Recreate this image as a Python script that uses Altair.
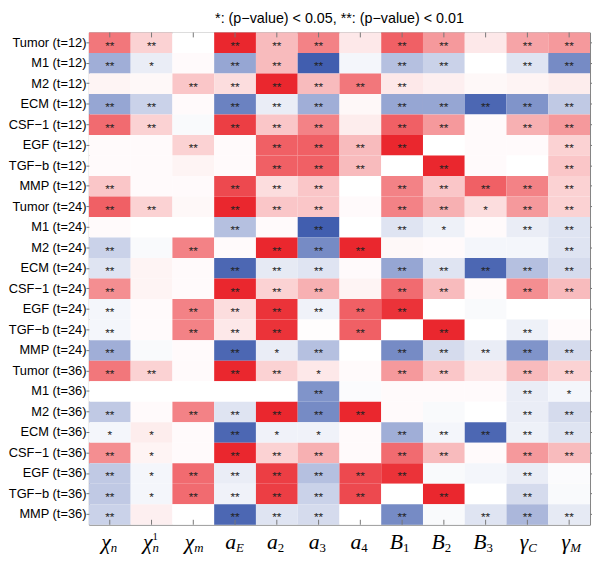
import altair as alt
import pandas as pd

title_text = "*: (p\u2212value) < 0.05, **: (p\u2212value) < 0.01"

variables = ["Tumor", "M1", "M2", "ECM", "CSF\u22121", "EGF", "TGF\u2212b", "MMP"]
times = [12, 24, 36]

params = ["chi_n", "chi_n1", "chi_m", "a_E", "a_2", "a_3", "a_4", "B_1", "B_2", "B_3", "gamma_C", "gamma_M"]
base_labels = ["\u03c7", "\u03c7", "\u03c7", "a", "a", "a", "a", "B", "B", "B", "\u03b3", "\u03b3"]
sub_labels = ["n", "n", "m", "E", "2", "3", "4", "1", "2", "3", "C", "M"]
sup_labels = ["", "1", "", "", "", "", "", "", "", "", "", ""]

# correlation-like values, rows = variables, columns = params
vals_t12 = [
    [0.6, 0.2, 0.0, 0.95, 0.3, 0.55, 0.1, 0.7, 0.45, 0.1, 0.4, 0.45],
    [-0.45, -0.1, 0.02, -0.5, 0.3, -0.9, -0.05, -0.35, -0.25, 0.0, -0.15, -0.65],
    [0.05, 0.03, 0.25, 0.15, 0.95, 0.3, 0.6, 0.1, 0.07, 0.03, 0.05, 0.08],
    [-0.5, -0.25, 0.02, -0.7, -0.1, -0.45, 0.03, -0.5, -0.5, -0.85, -0.6, -0.3],
    [0.65, 0.2, -0.03, 0.85, 0.25, 0.55, 0.08, 0.7, 0.45, 0.02, 0.35, 0.45],
    [0.02, 0.02, 0.2, 0.02, 0.7, 0.7, 0.3, 0.95, 0.0, 0.02, 0.02, 0.2],
    [0.02, 0.02, 0.05, 0.02, 0.7, 0.7, 0.3, 0.0, 0.95, 0.02, 0.0, 0.25],
    [0.25, 0.02, 0.02, 0.8, 0.15, 0.25, 0.0, 0.55, 0.25, 0.7, 0.55, 0.2],
]
vals_t24 = [
    [0.7, 0.2, 0.03, 0.95, 0.25, 0.25, 0.02, 0.55, 0.35, 0.15, 0.45, 0.2],
    [0.02, 0.0, 0.0, -0.35, 0.02, -0.9, 0.0, -0.15, -0.08, 0.02, -0.1, -0.15],
    [-0.25, -0.03, 0.55, 0.02, 0.95, -0.65, 0.95, 0.03, 0.02, -0.05, -0.05, -0.15],
    [-0.15, 0.05, 0.02, -0.85, -0.12, -0.15, 0.02, -0.5, -0.15, -0.85, -0.35, -0.2],
    [0.5, 0.05, 0.02, 0.95, 0.2, 0.35, 0.05, 0.65, 0.3, 0.02, 0.5, 0.3],
    [-0.05, 0.02, 0.55, 0.15, 0.9, -0.07, 0.7, 0.9, 0.0, -0.03, 0.0, 0.0],
    [-0.05, 0.02, 0.55, 0.1, 0.9, 0.01, 0.7, 0.0, 0.95, 0.0, -0.08, 0.02],
    [-0.45, -0.03, 0.02, -0.85, -0.1, -0.35, 0.0, -0.65, -0.2, -0.1, -0.6, -0.2],
]
vals_t36 = [
    [0.6, 0.2, 0.02, 0.95, 0.2, 0.1, 0.02, 0.45, 0.25, 0.1, 0.3, 0.2],
    [0.0, 0.0, 0.0, 0.0, 0.0, -0.6, -0.02, 0.02, 0.02, 0.02, -0.1, -0.05],
    [-0.3, 0.02, 0.55, -0.15, 0.95, -0.65, 0.95, 0.02, -0.03, 0.0, -0.1, -0.2],
    [-0.05, 0.08, 0.02, -0.85, -0.07, -0.07, 0.02, -0.45, -0.05, -0.85, -0.08, -0.15],
    [0.5, 0.05, 0.02, 0.95, 0.2, 0.35, 0.02, 0.65, 0.3, 0.02, 0.45, 0.3],
    [-0.3, -0.05, 0.65, -0.1, 0.85, -0.35, 0.8, 0.9, -0.03, -0.05, -0.1, -0.02],
    [-0.3, -0.05, 0.65, -0.07, 0.85, -0.25, 0.8, 0.0, 0.95, 0.0, -0.2, -0.03],
    [-0.25, 0.07, 0.0, -0.85, -0.15, -0.2, 0.0, -0.65, -0.03, -0.15, -0.4, -0.12],
]

# significance: 0 none, 1 "*", 2 "**"
sig_t12 = [
    [2, 2, 0, 2, 2, 2, 0, 2, 2, 0, 2, 2],
    [2, 1, 0, 2, 2, 2, 0, 2, 2, 0, 2, 2],
    [0, 0, 2, 2, 2, 2, 2, 2, 0, 0, 0, 0],
    [2, 2, 0, 2, 2, 2, 0, 2, 2, 2, 2, 2],
    [2, 2, 0, 2, 2, 2, 0, 2, 2, 0, 2, 2],
    [0, 0, 2, 0, 2, 2, 2, 2, 0, 0, 0, 2],
    [0, 0, 0, 0, 2, 2, 2, 0, 2, 0, 0, 2],
    [2, 0, 0, 2, 2, 2, 0, 2, 2, 2, 2, 2],
]
sig_t24 = [
    [2, 2, 0, 2, 2, 2, 0, 2, 2, 1, 2, 2],
    [0, 0, 0, 2, 0, 2, 0, 2, 1, 0, 2, 2],
    [2, 0, 2, 0, 2, 2, 2, 0, 0, 0, 0, 2],
    [2, 0, 0, 2, 2, 2, 0, 2, 2, 2, 2, 2],
    [2, 0, 0, 2, 2, 2, 0, 2, 2, 0, 2, 2],
    [2, 0, 2, 2, 2, 2, 2, 2, 0, 0, 0, 0],
    [2, 0, 2, 2, 2, 0, 2, 0, 2, 0, 2, 0],
    [2, 0, 0, 2, 1, 2, 0, 2, 2, 2, 2, 2],
]
sig_t36 = [
    [2, 2, 0, 2, 2, 1, 0, 2, 2, 0, 2, 2],
    [0, 0, 0, 0, 0, 2, 0, 0, 0, 0, 2, 1],
    [2, 0, 2, 2, 2, 2, 2, 0, 0, 0, 2, 2],
    [1, 1, 0, 2, 1, 1, 0, 2, 2, 2, 2, 2],
    [2, 1, 0, 2, 2, 2, 0, 2, 2, 0, 2, 2],
    [2, 1, 2, 2, 2, 2, 2, 2, 0, 0, 2, 0],
    [2, 1, 2, 2, 2, 2, 2, 0, 2, 0, 2, 0],
    [2, 0, 0, 2, 2, 2, 0, 2, 0, 2, 2, 2],
]

W, H = 508, 499
BLUE, RED = "#2c4ca6", "#e91c23"
LABEL_FONT = "Liberation Sans"

rows = []
records = []
for t, vals, sigs in zip(times, [vals_t12, vals_t24, vals_t36], [sig_t12, sig_t24, sig_t36]):
    for v, vrow, srow in zip(variables, vals, sigs):
        rname = f"{v} (t={t})"
        rows.append(rname)
        for p, val, s in zip(params, vrow, srow):
            records.append({"row": rname, "param": p, "value": val, "star": "*" * s})
df = pd.DataFrame(records)

lab = pd.DataFrame({"param": params, "base": base_labels, "sub": sub_labels, "sup": sup_labels})
lab["digit"] = lab["sub"].str.isdigit()

xs = alt.X("param:N", sort=params, axis=None, scale=alt.Scale(paddingInner=0, paddingOuter=0))
ys_noaxis = alt.Y("row:N", sort=rows, axis=None, scale=alt.Scale(paddingInner=0, paddingOuter=0))

heat = alt.Chart(df).mark_rect().encode(
    x=xs,
    y=alt.Y("row:N", sort=rows, scale=alt.Scale(paddingInner=0, paddingOuter=0),
            axis=alt.Axis(title=None, orient="left", domain=False, tickSize=3, tickColor="#777",
                          labelFont=LABEL_FONT, labelFontSize=13, labelColor="black", labelPadding=0,
                          labelLimit=200)),
    color=alt.Color("value:Q", legend=None,
                    scale=alt.Scale(domain=[-1, 0, 1], range=[BLUE, "#ffffff", RED], interpolate="rgb")),
)

right_axis = alt.Chart(df).mark_rect(opacity=0).encode(
    x=xs,
    y=alt.Y("row:N", sort=rows, scale=alt.Scale(paddingInner=0, paddingOuter=0),
            axis=alt.Axis(title=None, orient="right", domain=False, labels=False, tickSize=4, tickColor="#777")),
)

stars = alt.Chart(df).transform_filter("datum.star != ''").mark_text(
    fontSize=12, font="Liberation Sans", color="#222", baseline="middle", dy=3
).encode(x=xs, y=ys_noaxis, text="star:N")

pdf = pd.DataFrame({"param": params})
ticks_top = alt.Chart(pdf).mark_rule(color="#777", strokeWidth=1).encode(
    x=xs, y=alt.value(0), y2=alt.value(5))
ticks_bot = alt.Chart(pdf).mark_rule(color="#777", strokeWidth=1).encode(
    x=xs, y=alt.value(H - 5), y2=alt.value(H))

base_txt = alt.Chart(lab).mark_text(
    align="right", baseline="alphabetic", font="Liberation Serif", fontStyle="italic",
    fontSize=22, dx=1, color="black"
).encode(x=xs, y=alt.value(H + 25), text="base:N")
sub_it = alt.Chart(lab).transform_filter("!datum.digit").mark_text(
    align="left", baseline="alphabetic", font="Liberation Serif", fontStyle="italic",
    fontSize=13, dx=1, color="black"
).encode(x=xs, y=alt.value(H + 28), text="sub:N")
sub_num = alt.Chart(lab).transform_filter("datum.digit").mark_text(
    align="left", baseline="alphabetic", font="Liberation Serif",
    fontSize=13, dx=1, color="black"
).encode(x=xs, y=alt.value(H + 28), text="sub:N")
sup_txt = alt.Chart(lab).transform_filter("datum.sup != ''").mark_text(
    align="left", baseline="alphabetic", font="Liberation Serif",
    fontSize=11, dx=1, color="black"
).encode(x=xs, y=alt.value(H + 15), text="sup:N")

title_layer = alt.Chart(pd.DataFrame({"t": [title_text]})).mark_text(
    font=LABEL_FONT, fontSize=14.5, align="center", baseline="alphabetic", color="black"
).encode(text="t:N", x=alt.value(W / 2), y=alt.value(-10))

chart = alt.layer(
    heat, right_axis, stars, ticks_top, ticks_bot, base_txt, sub_it, sub_num, sup_txt, title_layer
).resolve_axis(y="independent").properties(
    width=W, height=H,
    padding={"left": 82, "top": 21, "right": 2, "bottom": 36},
    autosize=alt.AutoSizeParams(type="none"),
).configure_view(stroke="#808080", strokeWidth=1)

chart.save("out.html", embed_options={"renderer": "svg", "actions": False})
